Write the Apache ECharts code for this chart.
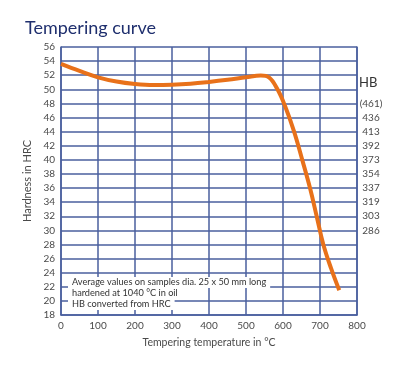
<!DOCTYPE html>
<html>
<head>
<meta charset="utf-8">
<script src="https://cdn.jsdelivr.net/npm/echarts@6/dist/echarts.min.js"></script>
<style>
html,body{margin:0;padding:0;background:#fff;}
#chart{width:419px;height:370px;}
</style>
</head>
<body>
<div id="chart"></div>
<script>
const temperatures = [0, 50, 100, 150, 200, 250, 300, 350, 400, 450, 500, 540, 562, 585, 605, 630, 652, 673, 691, 709, 730, 752];
const hardnessHRC = [53.6, 52.6, 51.7, 51.1, 50.75, 50.6, 50.65, 50.8, 51.05, 51.35, 51.7, 51.95, 51.7, 50.0, 47.7, 44.0, 40.0, 36.0, 32.0, 28.0, 24.6, 21.5];
const hbAtHRC = [48, 46, 44, 42, 40, 38, 36, 34, 32, 30];
const hbLabels = ['(461)', '436', '413', '392', '373', '354', '337', '319', '303', '286'];
const xTicks = [0, 100, 200, 300, 400, 500, 600, 700, 800];
const noteLines = [
  'Average values on samples dia. 25 x 50 mm long',
  'hardened at 1040 \u00b0C in oil',
  'HB converted from HRC'
];

const gridColor = '#4a5f9e';
const labelColor = '#4a4a4a';
const font = 'Lato';

const chart = echarts.init(document.getElementById('chart'));
const option = {
  backgroundColor: '#fff',
  animation: false,
  textStyle: { fontFamily: font },
  title: {
    text: 'Tempering curve',
    left: 20, top: 14,
    textStyle: { fontSize: 18, fontWeight: 'normal', color: '#1f2f6e', fontFamily: font }
  },
  grid: { left: 61, right: 62, top: 47, bottom: 55 },
  xAxis: {
    type: 'value', min: xTicks[0], max: xTicks[xTicks.length - 1], interval: 100,
    name: 'Tempering temperature in \u00b0C', nameLocation: 'middle', nameGap: 22,
    nameTextStyle: { fontSize: 10.5, color: labelColor },
    axisLine: { lineStyle: { color: gridColor, width: 1.5 } },
    axisTick: { show: false },
    axisLabel: { fontSize: 10, color: labelColor, margin: 6 },
    splitLine: { show: true, lineStyle: { color: gridColor, width: 1.5 } }
  },
  yAxis: [
    {
      type: 'value', min: 18, max: 56, interval: 2,
      name: 'Hardness in HRC', nameLocation: 'middle', nameGap: 26,
      nameTextStyle: { fontSize: 11, color: labelColor },
      axisLine: { show: true, lineStyle: { color: gridColor, width: 1.5 } },
      axisTick: { show: false },
      axisLabel: { fontSize: 10, color: labelColor, margin: 6 },
      splitLine: { show: true, lineStyle: { color: gridColor, width: 1.5 } }
    },
    {
      type: 'value', min: 18, max: 56, interval: 2, position: 'right',
      axisLine: { show: true, lineStyle: { color: gridColor, width: 1.5 } },
      axisTick: { show: false },
      splitLine: { show: false },
      axisLabel: {
        fontSize: 10, color: labelColor, margin: 14, align: 'center',
        formatter: function (v) {
          const i = hbAtHRC.indexOf(v);
          return i >= 0 ? hbLabels[i] : '';
        }
      }
    }
  ],
  graphic: [
    { type: 'text', left: 359, top: 76, style: { text: 'HB', fontSize: 13, fill: '#333', fontFamily: font } }
  ].concat(noteLines.map(function (t, i) {
    return {
      type: 'text', left: 68, top: 277 + i * 11, z: 10,
      style: {
        text: t, fontSize: 9.2, fill: '#333', fontFamily: font,
        backgroundColor: '#fff', padding: [1, 4, 1, 4]
      }
    };
  })),
  series: [{
    type: 'line',
    data: temperatures.map(function (t, i) { return [t, hardnessHRC[i]]; }),
    smooth: 0.4,
    showSymbol: false,
    lineStyle: { color: '#e8711a', width: 4 },
    z: 5
  }]
};
chart.setOption(option);
</script>
</body>
</html>
